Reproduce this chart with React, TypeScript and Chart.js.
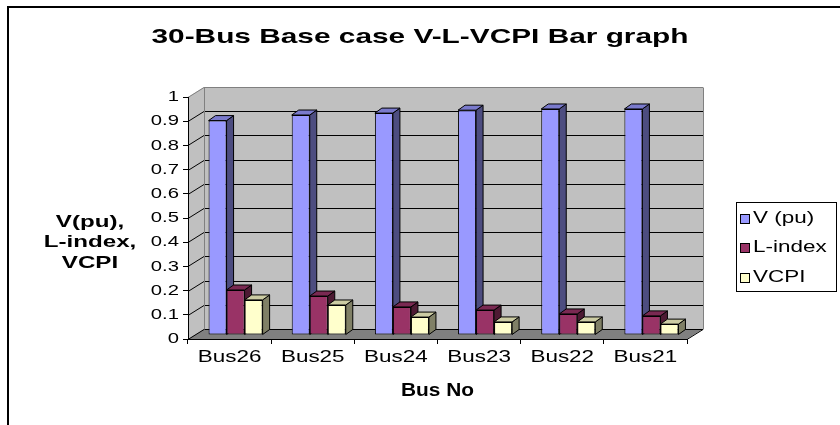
import { useEffect, useRef } from 'react';
import { Chart, registerables } from 'chart.js';

Chart.register(...registerables);

// ---- data ----
const categories = ['Bus26', 'Bus25', 'Bus24', 'Bus23', 'Bus22', 'Bus21'];
const vPu = [0.886, 0.909, 0.917, 0.929, 0.934, 0.934];
const lIndex = [0.186, 0.161, 0.116, 0.103, 0.087, 0.079];
const vcpi = [0.145, 0.124, 0.074, 0.054, 0.054, 0.045];
const seriesNames = ['V (pu)', 'L-index', 'VCPI'];
const yTicksMin = 0;
const yTicksMax = 1;
const yTickStep = 0.1;
const titleText = '30-Bus Base case V-L-VCPI Bar graph';
const xTitleText = 'Bus No';
const yTitleLines = ['V(pu),', 'L-index,', 'VCPI'];

// ---- styles ----
const FRONT = ['#9999FF', '#993366', '#FFFFCC'];
const SIDE = ['#4D4D80', '#4D1A33', '#808066'];
const TOP = ['#7A7ACC', '#7A2952', '#CCCCA3'];
const FAMILY = "'Liberation Sans', Arial, sans-serif";
const WALL_DX = 16;
const WALL_DY = -10;
const BAR_SHIFT_X = 6;
const BAR_SHIFT_Y = -4;
const BAR_DX = 7;
const BAR_DY = -5;

// horizontal stretch per font (the reference text is wide)
const STRETCH: Record<string, number> = {
  b21: 1.42,
  b18: 1.16,
  b17: 1.42,
  '15': 1.35,
  '17': 1.32,
};

const threeD = {
  id: 'threeD',
  beforeDraw(chart: any) {
    const { ctx, chartArea: ca, scales } = chart;
    const ys = scales.y;
    ctx.save();
    ctx.fillStyle = '#ffffff';
    ctx.fillRect(0, 0, chart.width, chart.height);
    // outer frame
    ctx.strokeStyle = '#000';
    ctx.lineWidth = 2;
    ctx.strokeRect(8, 7, chart.width + 40, chart.height + 40);

    const yTop = ys.getPixelForValue(ys.max);
    const yBot = ys.getPixelForValue(ys.min);
    const L = ca.left;
    const R = ca.right;
    // back wall
    ctx.fillStyle = '#C0C0C0';
    ctx.fillRect(L + WALL_DX, yTop + WALL_DY, R - L, yBot - yTop);
    // left wall
    ctx.beginPath();
    ctx.moveTo(L, yTop);
    ctx.lineTo(L + WALL_DX, yTop + WALL_DY);
    ctx.lineTo(L + WALL_DX, yBot + WALL_DY);
    ctx.lineTo(L, yBot);
    ctx.closePath();
    ctx.fill();
    // floor
    ctx.fillStyle = '#808080';
    ctx.beginPath();
    ctx.moveTo(L, yBot);
    ctx.lineTo(R, yBot);
    ctx.lineTo(R + WALL_DX, yBot + WALL_DY);
    ctx.lineTo(L + WALL_DX, yBot + WALL_DY);
    ctx.closePath();
    ctx.fill();

    // grid lines
    ctx.lineWidth = 1;
    ys.ticks.forEach((t: any) => {
      const y = Math.round(ys.getPixelForValue(t.value)) + 0.5;
      ctx.strokeStyle = t.value >= ys.max ? '#808080' : '#000';
      ctx.beginPath();
      ctx.moveTo(L, y);
      ctx.lineTo(L + WALL_DX, y + WALL_DY);
      ctx.lineTo(R + WALL_DX, y + WALL_DY);
      ctx.stroke();
    });
    // wall outlines
    ctx.strokeStyle = '#808080';
    ctx.beginPath();
    ctx.moveTo(Math.round(R + WALL_DX) + 0.5, Math.round(yTop) + 0.5 + WALL_DY);
    ctx.lineTo(Math.round(R + WALL_DX) + 0.5, Math.round(yBot) + 0.5 + WALL_DY);
    ctx.stroke();
    ctx.beginPath();
    ctx.moveTo(Math.round(L + WALL_DX) + 0.5, Math.round(yTop) + 0.5 + WALL_DY);
    ctx.lineTo(Math.round(L + WALL_DX) + 0.5, Math.round(yBot) + 0.5 + WALL_DY);
    ctx.stroke();
    ctx.strokeStyle = '#000';
    ctx.beginPath();
    ctx.moveTo(R, Math.round(yBot) + 0.5);
    ctx.lineTo(R + WALL_DX, Math.round(yBot) + 0.5 + WALL_DY);
    ctx.stroke();
    ctx.restore();
  },
  beforeDatasetsDraw(chart: any) {
    const { ctx } = chart;
    ctx.save();
    ctx.translate(BAR_SHIFT_X, BAR_SHIFT_Y);
    ctx.lineWidth = 1;
    ctx.strokeStyle = '#000';
    chart.data.datasets.forEach((_ds: any, di: number) => {
      const meta = chart.getDatasetMeta(di);
      meta.data.forEach((el: any) => {
        const { x, y, base, width } = el.getProps(['x', 'y', 'base', 'width'], true);
        const x1 = x - width / 2;
        const x2 = x + width / 2;
        ctx.fillStyle = SIDE[di];
        ctx.beginPath();
        ctx.moveTo(x2, y);
        ctx.lineTo(x2 + BAR_DX, y + BAR_DY);
        ctx.lineTo(x2 + BAR_DX, base + BAR_DY);
        ctx.lineTo(x2, base);
        ctx.closePath();
        ctx.fill();
        ctx.stroke();
        ctx.fillStyle = TOP[di];
        ctx.beginPath();
        ctx.moveTo(x1, y);
        ctx.lineTo(x1 + BAR_DX, y + BAR_DY);
        ctx.lineTo(x2 + BAR_DX, y + BAR_DY);
        ctx.lineTo(x2, y);
        ctx.closePath();
        ctx.fill();
        ctx.stroke();
      });
    });
  },
  afterDatasetsDraw(chart: any) {
    chart.ctx.restore();
  },
  afterDraw(chart: any) {
    const { ctx } = chart;
    ctx.save();
    // y axis title (horizontal, multi-line)
    ctx.fillStyle = '#000';
    ctx.font = `bold 17px ${FAMILY}`;
    ctx.textAlign = 'center';
    ctx.textBaseline = 'middle';
    yTitleLines.forEach((line, i) => {
      ctx.fillText(line, 90, 222 + i * 20.5);
    });
    // legend
    ctx.lineWidth = 1;
    ctx.strokeStyle = '#000';
    ctx.strokeRect(736.5, 202.5, 100, 89);
    ctx.font = `17px ${FAMILY}`;
    ctx.textAlign = 'left';
    chart.data.datasets.forEach((ds: any, i: number) => {
      const cy = 218 + i * 29.5;
      ctx.fillStyle = ds.backgroundColor;
      ctx.fillRect(740.5, Math.round(cy - 4.5) + 0.5, 9, 9);
      ctx.strokeRect(740.5, Math.round(cy - 4.5) + 0.5, 9, 9);
      ctx.fillStyle = '#000';
      ctx.fillText(ds.label, 753, cy);
    });
    ctx.restore();
  },
};

export default function App() {
  const ref = useRef<HTMLCanvasElement>(null);
  useEffect(() => {
    const canvas = ref.current!;
    const ctx = canvas.getContext('2d')! as any;
    if (!ctx.__origFillText) {
      ctx.__origFillText = ctx.fillText.bind(ctx);
      ctx.fillText = (text: string, x: number, y: number, mw?: number) => {
        const f: string = ctx.font;
        const bold = /bold|700/.test(f);
        const m = /(\d+(?:\.\d+)?)px/.exec(f);
        const key = (bold ? 'b' : '') + (m ? Math.round(parseFloat(m[1])) : '');
        const sx = STRETCH[key] ?? 1;
        if (sx === 1) {
          if (mw === undefined) ctx.__origFillText(text, x, y);
          else ctx.__origFillText(text, x, y, mw);
          return;
        }
        ctx.save();
        ctx.translate(x, y);
        ctx.scale(sx, 1);
        ctx.__origFillText(text, 0, 0);
        ctx.restore();
      };
    }

    const datasets = [vPu, lIndex, vcpi].map((d, i) => ({
      label: seriesNames[i],
      data: d,
      backgroundColor: FRONT[i],
      borderColor: '#000',
      borderWidth: 1,
      borderSkipped: false as const,
      categoryPercentage: 0.65,
      barPercentage: 1,
      clip: false as const,
    }));

    const chart = new Chart(canvas, {
      type: 'bar',
      data: { labels: categories, datasets },
      plugins: [threeD],
      options: {
        animation: false,
        responsive: false,
        maintainAspectRatio: false,
        layout: { padding: { left: 0, right: 0, top: 0, bottom: 0 } },
        plugins: {
          legend: { display: false },
          tooltip: { enabled: false },
          title: {
            display: true,
            text: titleText,
            color: '#000',
            font: { family: FAMILY, size: 21, weight: 'bold' },
            padding: { top: 25, bottom: 46.8 },
          },
        },
        scales: {
          x: {
            afterFit: (s: any) => {
              s.height = 86;
            },
            grid: {
              drawOnChartArea: false,
              drawTicks: true,
              tickLength: 5,
              color: '#000',
              offset: true,
            },
            border: { color: '#000' },
            ticks: { color: '#000', font: { family: FAMILY, size: 17 }, padding: 3 },
            title: {
              display: true,
              text: xTitleText,
              color: '#000',
              font: { family: FAMILY, size: 18, weight: 'bold' },
              padding: { top: 0, bottom: 23 },
            },
          },
          y: {
            min: yTicksMin,
            max: yTicksMax,
            afterFit: (s: any) => {
              s.width = 188;
            },
            grid: {
              drawOnChartArea: false,
              drawTicks: true,
              tickLength: 5,
              color: '#000',
            },
            border: { color: '#000' },
            ticks: {
              stepSize: yTickStep,
              color: '#000',
              font: { family: FAMILY, size: 15 },
              padding: 4,
              callback: (v: any) => String(Number(Number(v).toFixed(2))),
            },
          },
          legendSpace: {
            type: 'linear',
            position: 'right',
            display: true,
            afterFit: (s: any) => {
              s.width = 153;
            },
            grid: { display: false },
            border: { display: false },
            ticks: { display: false },
          },
        },
      } as any,
    });
    return () => chart.destroy();
  }, []);
  return (
    <div style={{ position: 'absolute', left: 0, top: 0, width: 840, height: 425 }}>
      <canvas ref={ref} width={840} height={425} style={{ display: 'block' }} />
    </div>
  );
}
